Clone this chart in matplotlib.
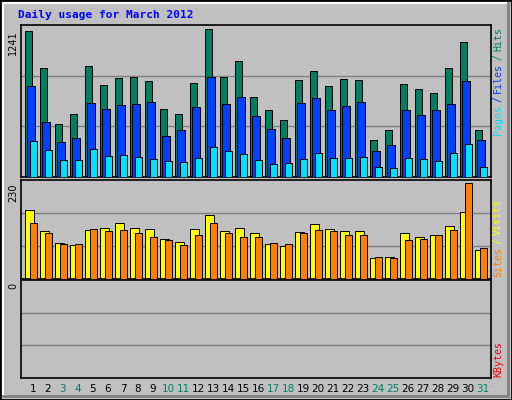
import matplotlib
matplotlib.use("Agg")
import matplotlib.pyplot as plt
from matplotlib.patches import Rectangle
import numpy as np

days = list(range(1, 32))
weekend = [3, 4, 10, 11, 17, 18, 24, 25, 31]
hits = [1224, 912, 447, 532, 929, 777, 836, 844, 810, 574, 532, 794, 1241, 844, 971, 675,
        566, 481, 819, 895, 768, 827, 819, 312, 397, 785, 743, 709, 920, 1131, 397]
files = [768, 464, 295, 329, 625, 574, 608, 616, 633, 346, 397, 591, 844, 616, 675, 515,
         405, 329, 625, 667, 566, 599, 633, 219, 270, 566, 523, 566, 616, 810, 312]
pages = [304, 228, 144, 144, 236, 177, 186, 169, 152, 135, 127, 160, 253, 219, 194, 144,
         110, 118, 152, 203, 160, 160, 169, 84, 76, 160, 152, 135, 203, 279, 84]
visits = [167, 115, 87, 82, 117, 122, 135, 122, 120, 97, 90, 120, 155, 115, 122, 110,
          85, 80, 112, 132, 120, 115, 115, 50, 52, 110, 100, 105, 127, 162, 70]
sites = [135, 110, 85, 85, 120, 115, 117, 110, 102, 95, 82, 105, 135, 110, 100, 100,
         87, 85, 110, 117, 115, 107, 105, 52, 50, 95, 97, 107, 117, 230, 75]
kbytes = [0] * 31

W, H = 512, 400
BG = "#C0C0C0"
fig = plt.figure(figsize=(W / 100, H / 100), dpi=100)
fig.patch.set_facecolor(BG)
fig.add_artist(Rectangle((0, 0), 1, 1, transform=fig.transFigure, fill=False, ec="black", lw=2))
fig.add_artist(plt.Line2D([3 / W, 3 / W, (W - 3) / W], [3 / H, (H - 3) / H, (H - 3) / H],
                          transform=fig.transFigure, color="white", lw=1.5))
fig.add_artist(plt.Line2D([3 / W, (W - 4) / W, (W - 4) / W], [4 / H, 4 / H, (H - 3) / H],
                          transform=fig.transFigure, color="#808080", lw=2))

def ax_px(x0, y0, x1, y1):
    return fig.add_axes([x0 / W, 1 - y1 / H, (x1 - x0) / W, (y1 - y0) / H])

x = np.array(days)
XL = (1 - 4 / 15, 1 - 4 / 15 + 470 / 15)

def style(ax, top):
    ax.set_facecolor(BG)
    ax.set_xlim(*XL)
    ax.set_ylim(0, top)
    ax.set_xticks([]); ax.set_yticks([])
    for s in ax.spines.values():
        s.set_color("black"); s.set_linewidth(1.2)
    for f in (1 / 3, 2 / 3):
        ax.axhline(top * f, color="#808080", lw=1, zorder=0)

mono = "DejaVu Sans Mono"
LW = 0.7

ax1 = ax_px(21, 25, 491, 177)
top1 = 1241 * 454 / 441
style(ax1, top1)
ax1.bar(x + 0.02, hits, width=0.43, align="edge", color="#008060", ec="black", lw=LW, zorder=2)
ax1.bar(x + 0.15, files, width=0.5, align="edge", color="#0040FF", ec="black", lw=LW, zorder=3)
ax1.bar(x + 0.3, pages, width=0.48, align="edge", color="#00E0FF", ec="black", lw=LW, zorder=4)

ax2 = ax_px(21, 180, 491, 279)
top2 = 230 * 286 / 276
style(ax2, top2)
ax2.bar(x + 0.02, visits, width=0.55, align="edge", color="#FFFF00", ec="black", lw=LW, zorder=2)
ax2.bar(x + 0.3, sites, width=0.48, align="edge", color="#FF8000", ec="black", lw=LW, zorder=3)

ax3 = ax_px(21, 280, 491, 378)
style(ax3, 1)
ax3.bar(x + 0.3, kbytes, width=0.48, align="edge", color="#FF0000", ec="black", lw=LW)

fig.text(13 / W, 1 - 30 / H, "1241", rotation=90, ha="center", va="top", fontsize=7)
fig.text(13 / W, 1 - 183 / H, "230", rotation=90, ha="center", va="top", fontsize=7)
fig.text(13 / W, 1 - 283 / H, "0", rotation=90, ha="center", va="top", fontsize=7)

for d in days:
    xf = (21 + (d + 0.53 - XL[0]) * 15) / W
    fig.text(xf, 1 - 389 / H, str(d), ha="center", va="center", fontsize=7.5,
             color="#008060" if d in weekend else "black")

fig.text(18 / W, 1 - 15 / H, "Daily usage for March 2012", ha="left", va="center",
         fontsize=8, color="#0000FF", family=mono, fontweight="bold")

renderer = fig.canvas.get_renderer()

def vlabel(pieces, ytop, xpx=498, gap=3):
    y = ytop
    for txt, col in reversed(pieces):
        t = fig.text(xpx / W, 1 - y / H, txt, rotation=90, ha="center", va="top",
                     fontsize=7.2, color=col, family=mono)
        bb = t.get_window_extent(renderer)
        y += bb.height + gap

vlabel([("Pages", "#00E0FF"), ("/", "#0040FF"), ("Files", "#0040FF"),
        ("/", "#008060"), ("Hits", "#008060")], 27)
vlabel([("Sites", "#FF8000"), ("/", "#FFFF00"), ("Visits", "#FFFF00")], 199)
vlabel([("KBytes", "#FF0000")], 341)

fig.savefig("out.png", dpi=100, facecolor=BG)
